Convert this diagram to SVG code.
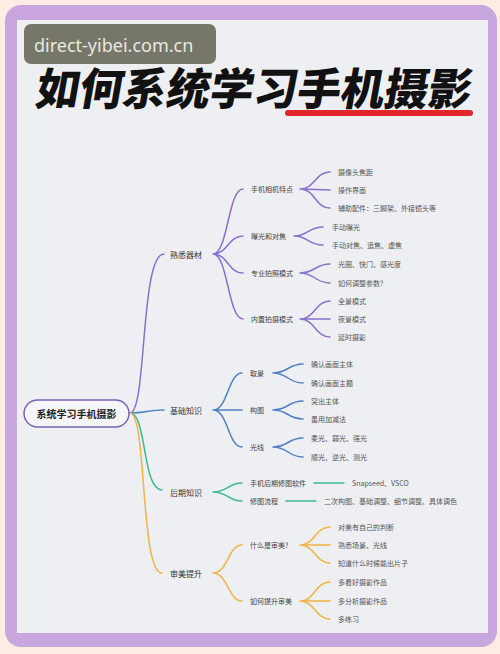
<svg xmlns="http://www.w3.org/2000/svg" width="500" height="654" viewBox="0 0 500 654">
<style>
text{font-family:"Noto Sans CJK SC","Noto Sans",sans-serif;dominant-baseline:central}
.l1{font-size:8px;fill:#333}
.l2{font-size:7px;fill:#444}
.l3{font-size:7px;fill:#555}
.c{fill:none;stroke-width:1.5;stroke-linecap:round}
.pu{stroke:#8b6fcf}.bl{stroke:#4e80c6}.gr{stroke:#3db898}.or{stroke:#f2b443}
</style>
<rect x="0" y="0" width="500" height="654" fill="#fcece4"/>
<rect x="5" y="5" width="492" height="642" rx="16" fill="#c9a6dd"/>
<rect x="17" y="20" width="471" height="613" fill="#eeeff2"/>
<g id="watermark">
<rect x="24" y="24" width="192" height="40" rx="7" fill="#777769"/>
<text x="34" y="45" style="font-family:'Noto Sans','Open Sans',sans-serif;font-size:18px;fill:#e8e8e2">direct-yibei.com.cn</text>
</g>
<g id="title">
<text transform="translate(255,86) skewX(-10)" x="0" y="0" text-anchor="middle" textLength="436" lengthAdjust="spacingAndGlyphs" style="font-size:44px;font-weight:900;fill:#111">如何系统学习手机摄影</text>
<rect x="285" y="110" width="188" height="6" rx="3" fill="#e3262c"/>
</g>
<g id="connectors">
<path class="c pu" d="M130,413 C147,413 140,254 164,254"/>
<path class="c bl" d="M130,413 C147,413 147,410 164,410"/>
<path class="c gr" d="M130,413 C147,413 142,490 162,490"/>
<path class="c or" d="M130,413 C147,413 140,573 162,573"/>
<path class="c pu" d="M213,254 C228,254 228,189 243,189 M213,254 C228,254 228,236 243,236 M213,254 C228,254 228,273 243,273 M213,254 C228,254 228,319 243,319"/>
<path class="c bl" d="M213,410 C228,410 228,373 242,373 M213,410 L242,410 M213,410 C228,410 228,447 242,447"/>
<path class="c gr" d="M213,492 C228,492 228,483 242,483 M213,492 C228,492 228,501 242,501"/>
<path class="c or" d="M213,573 C228,573 228,545 242,545 M213,573 C228,573 228,601 242,601"/>
<path class="c pu" d="M300,189 C315,189 315,172 330,172 M300,189 L330,190 M300,189 C315,189 315,208 330,208"/>
<path class="c pu" d="M294,236 C308,236 308,227 323,227 M294,236 C308,236 308,245 323,245"/>
<path class="c pu" d="M300,273 C315,273 315,264 330,264 M300,273 C315,273 315,283 330,283"/>
<path class="c pu" d="M300,319 C315,319 315,301 330,301 M300,319 L330,319 M300,319 C315,319 315,337 330,337"/>
<path class="c bl" d="M273,373 C288,373 288,364 303,364 M273,373 C288,373 288,383 303,383"/>
<path class="c bl" d="M273,410 C288,410 288,401 303,401 M273,410 C288,410 288,419 303,419"/>
<path class="c bl" d="M273,447 C288,447 288,438 303,438 M273,447 C288,447 288,457 303,457"/>
<path class="c gr" d="M314,483 L344,483 M286,501 L316,501"/>
<path class="c or" d="M300,545 C315,545 315,527 330,527 M300,545 L330,545 M300,545 C315,545 315,563 330,563"/>
<path class="c or" d="M300,601 C315,601 315,582 330,582 M300,601 L330,601 M300,601 C315,601 315,619 330,619"/>
</g>
<g id="root">
<rect x="24" y="400" width="105" height="27" rx="13.5" fill="#f6f5fa" stroke="#7d63b3" stroke-width="1.5"/>
<text x="76.5" y="413.5" text-anchor="middle" style="font-size:10px;font-weight:700;fill:#222">系统学习手机摄影</text>
</g>
<g id="n-equip"><text class="l1" x="170" y="254">熟悉器材</text></g>
<g id="n-basic"><text class="l1" x="170" y="410">基础知识</text></g>
<g id="n-post"><text class="l1" x="170" y="492">后期知识</text></g>
<g id="n-aes"><text class="l1" x="170" y="573">审美提升</text></g>
<g id="n-phone"><text class="l2" x="251" y="189">手机相机特点</text>
<text class="l3" x="338" y="172">摄像头焦距</text>
<text class="l3" x="338" y="190">操作界面</text>
<text class="l3" x="338" y="208">辅助配件：三脚架、外接镜头等</text></g>
<g id="n-expo"><text class="l2" x="251" y="236">曝光和对焦</text>
<text class="l3" x="332" y="227">手动曝光</text>
<text class="l3" x="332" y="245">手动对焦、追焦、虚焦</text></g>
<g id="n-pro"><text class="l2" x="251" y="273">专业拍照模式</text>
<text class="l3" x="338" y="264">光圈、快门、感光度</text>
<text class="l3" x="338" y="283">如何调整参数?</text></g>
<g id="n-builtin"><text class="l2" x="251" y="319">内置拍摄模式</text>
<text class="l3" x="338" y="301">全景模式</text>
<text class="l3" x="338" y="319">夜景模式</text>
<text class="l3" x="338" y="337">延时摄影</text></g>
<g id="n-frame"><text class="l2" x="250" y="373">取景</text>
<text class="l3" x="311" y="364">确认画面主体</text>
<text class="l3" x="311" y="383">确认画面主题</text></g>
<g id="n-comp"><text class="l2" x="250" y="410">构图</text>
<text class="l3" x="311" y="401">突出主体</text>
<text class="l3" x="311" y="419">善用加减法</text></g>
<g id="n-light"><text class="l2" x="250" y="447">光线</text>
<text class="l3" x="311" y="438">柔光、弱光、强光</text>
<text class="l3" x="311" y="457">顺光、逆光、测光</text></g>
<g id="n-soft"><text class="l2" x="250" y="483">手机后期修图软件</text>
<text class="l3" x="352" y="483">Snapseed、VSCO</text></g>
<g id="n-flow"><text class="l2" x="250" y="501">修图流程</text>
<text class="l3" x="324" y="501">二次构图、基础调整、细节调整、具体调色</text></g>
<g id="n-what"><text class="l2" x="250" y="545">什么是审美?</text>
<text class="l3" x="338" y="527">对美有自己的判断</text>
<text class="l3" x="338" y="545">熟悉场景、光线</text>
<text class="l3" x="338" y="563">知道什么时候能出片子</text></g>
<g id="n-how"><text class="l2" x="250" y="601">如何提升审美</text>
<text class="l3" x="338" y="582">多看好摄影作品</text>
<text class="l3" x="338" y="601">多分析摄影作品</text>
<text class="l3" x="338" y="619">多练习</text></g>
</svg>
